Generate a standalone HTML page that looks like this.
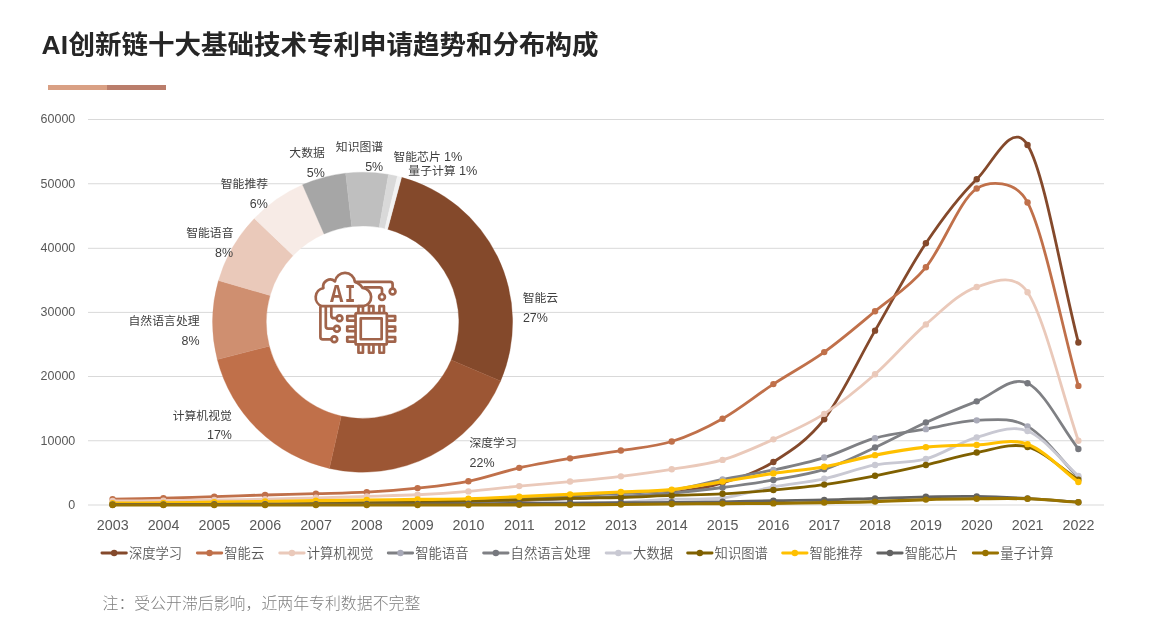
<!DOCTYPE html>
<html lang="zh-CN"><head><meta charset="utf-8"><title>AI创新链十大基础技术专利申请趋势和分布构成</title>
<style>
html,body{margin:0;padding:0;background:#fff;}
body{width:1151px;height:635px;position:relative;overflow:hidden;font-family:"Liberation Sans","Noto Sans CJK SC",sans-serif;}
h1{position:absolute;left:41.4px;top:26px;margin:0;font-size:26.5px;line-height:38px;font-weight:700;color:#262626;white-space:nowrap;letter-spacing:0;}
.bar{position:absolute;top:85px;height:4.6px;}
.b1{left:48px;width:59px;background:#D9A084;}
.b2{left:107px;width:59px;background:#BA7D6B;}
.note{position:absolute;left:102.5px;top:592px;margin:0;font-size:15.9px;line-height:24px;font-weight:300;color:#7F7F7F;white-space:nowrap;}
svg{position:absolute;left:0;top:0;}
svg text{font-family:"Liberation Sans","Noto Sans CJK SC",sans-serif;}
.ya{font-size:13.3px;fill:#595959;text-anchor:end;}
.xa{font-size:15.25px;fill:#595959;text-anchor:middle;}
.lg{font-size:13.33px;fill:#595959;font-weight:350;}
.dl{font-size:11.85px;fill:#404040;}
.pc{font-size:13.2px;}
.pc2{font-size:12.7px;}
</style></head><body>
<h1><span style="letter-spacing:.3px">AI</span>创新链十大基础技术专利申请趋势和分布构成</h1>
<div class="bar b1"></div><div class="bar b2"></div>
<svg width="1151" height="635" viewBox="0 0 1151 635">
<g stroke="#D9D9D9" stroke-width="1">
<line x1="88" x2="1104" y1="505" y2="505"/>
<line x1="88" x2="1104" y1="440.75" y2="440.75"/>
<line x1="88" x2="1104" y1="376.5" y2="376.5"/>
<line x1="88" x2="1104" y1="312.4" y2="312.4"/>
<line x1="88" x2="1104" y1="248.3" y2="248.3"/>
<line x1="88" x2="1104" y1="183.75" y2="183.75"/>
<line x1="88" x2="1104" y1="119.5" y2="119.5"/>
</g>
<g class="ya">
<text transform="translate(75.3 508.8) scale(.94 1)">0</text>
<text transform="translate(75.3 444.55) scale(.94 1)">10000</text>
<text transform="translate(75.3 380.3) scale(.94 1)">20000</text>
<text transform="translate(75.3 316.05) scale(.94 1)">30000</text>
<text transform="translate(75.3 251.8) scale(.94 1)">40000</text>
<text transform="translate(75.3 187.55) scale(.94 1)">50000</text>
<text transform="translate(75.3 123.3) scale(.94 1)">60000</text>
</g>
<g class="xa">
<text transform="translate(112.7 530.1) scale(.938 1)">2003</text>
<text transform="translate(163.53 530.1) scale(.938 1)">2004</text>
<text transform="translate(214.36 530.1) scale(.938 1)">2005</text>
<text transform="translate(265.19 530.1) scale(.938 1)">2006</text>
<text transform="translate(316.02 530.1) scale(.938 1)">2007</text>
<text transform="translate(366.85 530.1) scale(.938 1)">2008</text>
<text transform="translate(417.68 530.1) scale(.938 1)">2009</text>
<text transform="translate(468.51 530.1) scale(.938 1)">2010</text>
<text transform="translate(519.34 530.1) scale(.938 1)">2011</text>
<text transform="translate(570.17 530.1) scale(.938 1)">2012</text>
<text transform="translate(621 530.1) scale(.938 1)">2013</text>
<text transform="translate(671.83 530.1) scale(.938 1)">2014</text>
<text transform="translate(722.66 530.1) scale(.938 1)">2015</text>
<text transform="translate(773.49 530.1) scale(.938 1)">2016</text>
<text transform="translate(824.32 530.1) scale(.938 1)">2017</text>
<text transform="translate(875.15 530.1) scale(.938 1)">2018</text>
<text transform="translate(925.98 530.1) scale(.938 1)">2019</text>
<text transform="translate(976.81 530.1) scale(.938 1)">2020</text>
<text transform="translate(1027.64 530.1) scale(.938 1)">2021</text>
<text transform="translate(1078.47 530.1) scale(.938 1)">2022</text>
</g>
<g>
<path fill="#84492B" stroke="#84492B" stroke-width=".35" d="M401.55 177.35A150 150 0 0 1 500.57 381.05L451.18 359.98A96.3 96.3 0 0 0 387.61 229.2Z"/>
<path fill="#9C5634" stroke="#9C5634" stroke-width=".35" d="M500.57 381.05A150 150 0 0 1 329.37 468.47L341.26 416.11A96.3 96.3 0 0 0 451.18 359.98Z"/>
<path fill="#C0704A" stroke="#C0704A" stroke-width=".35" d="M329.37 468.47A150 150 0 0 1 217.31 359.5L269.33 346.15A96.3 96.3 0 0 0 341.26 416.11Z"/>
<path fill="#CF8F70" stroke="#CF8F70" stroke-width=".35" d="M217.31 359.5A150 150 0 0 1 218.48 280.6L270.08 295.49A96.3 96.3 0 0 0 269.33 346.15Z"/>
<path fill="#EAC9BA" stroke="#EAC9BA" stroke-width=".35" d="M218.48 280.6A150 150 0 0 1 254.34 218.38L293.09 255.55A96.3 96.3 0 0 0 270.08 295.49Z"/>
<path fill="#F7EBE6" stroke="#F7EBE6" stroke-width=".35" d="M254.34 218.38A150 150 0 0 1 302.55 184.75L324.05 233.95A96.3 96.3 0 0 0 293.09 255.55Z"/>
<path fill="#A6A6A6" stroke="#A6A6A6" stroke-width=".35" d="M302.55 184.75A150 150 0 0 1 345.62 173.16L351.7 226.52A96.3 96.3 0 0 0 324.05 233.95Z"/>
<path fill="#BFBFBF" stroke="#BFBFBF" stroke-width=".35" d="M345.62 173.16A150 150 0 0 1 388.47 174.45L379.21 227.34A96.3 96.3 0 0 0 351.7 226.52Z"/>
<path fill="#D9D9D9" stroke="#D9D9D9" stroke-width=".35" d="M388.47 174.45A150 150 0 0 1 397.36 176.28L384.92 228.52A96.3 96.3 0 0 0 379.21 227.34Z"/>
<path fill="#F2F2F2" stroke="#F2F2F2" stroke-width=".35" d="M397.36 176.28A150 150 0 0 1 401.55 177.35L387.61 229.2A96.3 96.3 0 0 0 384.92 228.52Z"/>
</g>
<path d="M112.6 504.61C129.54 504.57 146.49 504.53 163.43 504.49C180.37 504.44 197.32 504.41 214.26 504.36C231.2 504.3 248.15 504.23 265.09 504.16C282.03 504.1 298.98 504.05 315.92 503.97C332.86 503.9 349.81 503.82 366.75 503.71C383.69 503.61 400.64 503.54 417.58 503.33C434.52 503.12 451.47 502.9 468.41 502.43C485.35 501.96 502.3 501.14 519.24 500.5C536.18 499.86 553.13 499.16 570.07 498.57C587.01 497.99 603.96 497.93 620.9 496.97C637.84 496 654.79 495.15 671.73 492.79C688.67 490.44 705.62 487.97 722.56 482.83C739.5 477.69 756.45 472.55 773.39 461.95C790.33 451.35 807.28 441.11 824.22 419.23C841.16 397.34 858.11 359.98 875.05 330.66C891.99 301.34 908.94 268.55 925.88 243.31C942.82 218.07 959.77 195.64 976.71 179.25C992.91 163.59 1011.34 118.99 1027.54 145.01C1044.48 172.21 1061.43 276.66 1078.37 342.49" fill="none" stroke="#84492B" stroke-width="2.8" stroke-linecap="round" stroke-linejoin="round"/>
<g fill="#84492B"><circle cx="112.6" cy="504.61" r="3.2"/><circle cx="163.43" cy="504.49" r="3.2"/><circle cx="214.26" cy="504.36" r="3.2"/><circle cx="265.09" cy="504.16" r="3.2"/><circle cx="315.92" cy="503.97" r="3.2"/><circle cx="366.75" cy="503.71" r="3.2"/><circle cx="417.58" cy="503.33" r="3.2"/><circle cx="468.41" cy="502.43" r="3.2"/><circle cx="519.24" cy="500.5" r="3.2"/><circle cx="570.07" cy="498.57" r="3.2"/><circle cx="620.9" cy="496.97" r="3.2"/><circle cx="671.73" cy="492.79" r="3.2"/><circle cx="722.56" cy="482.83" r="3.2"/><circle cx="773.39" cy="461.95" r="3.2"/><circle cx="824.22" cy="419.23" r="3.2"/><circle cx="875.05" cy="330.66" r="3.2"/><circle cx="925.88" cy="243.31" r="3.2"/><circle cx="976.71" cy="179.25" r="3.2"/><circle cx="1027.54" cy="145.01" r="3.2"/><circle cx="1078.37" cy="342.49" r="3.2"/></g>
<path d="M112.6 499.09C129.54 498.79 146.49 498.6 163.43 498.19C180.37 497.78 197.32 497.18 214.26 496.65C231.2 496.11 248.15 495.47 265.09 494.98C282.03 494.48 298.98 494.16 315.92 493.69C332.86 493.22 349.81 493.08 366.75 492.15C383.69 491.22 400.64 489.91 417.58 488.1C434.52 486.29 451.47 484.66 468.41 481.29C485.35 477.92 502.3 471.69 519.24 467.86C536.18 464.04 553.13 461.25 570.07 458.36C587.01 455.48 603.96 453.36 620.9 450.55C637.84 447.75 654.79 446.82 671.73 441.52C688.67 436.22 705.62 428.3 722.56 418.73C739.5 409.16 756.45 395.21 773.39 384.11C790.33 373 807.28 364.23 824.22 352.09C841.16 339.94 858.11 325.38 875.05 311.25C891.99 297.11 908.94 287.72 925.88 267.27C942.82 246.83 959.77 199.37 976.71 188.57C988.77 180.88 1015.48 179.03 1027.54 202.45C1044.48 235.34 1061.43 324.76 1078.37 385.92" fill="none" stroke="#C0704A" stroke-width="2.8" stroke-linecap="round" stroke-linejoin="round"/>
<g fill="#C0704A"><circle cx="112.6" cy="499.09" r="3.2"/><circle cx="163.43" cy="498.19" r="3.2"/><circle cx="214.26" cy="496.65" r="3.2"/><circle cx="265.09" cy="494.98" r="3.2"/><circle cx="315.92" cy="493.69" r="3.2"/><circle cx="366.75" cy="492.15" r="3.2"/><circle cx="417.58" cy="488.1" r="3.2"/><circle cx="468.41" cy="481.29" r="3.2"/><circle cx="519.24" cy="467.86" r="3.2"/><circle cx="570.07" cy="458.36" r="3.2"/><circle cx="620.9" cy="450.55" r="3.2"/><circle cx="671.73" cy="441.52" r="3.2"/><circle cx="722.56" cy="418.73" r="3.2"/><circle cx="773.39" cy="384.11" r="3.2"/><circle cx="824.22" cy="352.09" r="3.2"/><circle cx="875.05" cy="311.25" r="3.2"/><circle cx="925.88" cy="267.27" r="3.2"/><circle cx="976.71" cy="188.57" r="3.2"/><circle cx="1027.54" cy="202.45" r="3.2"/><circle cx="1078.37" cy="385.92" r="3.2"/></g>
<path d="M112.6 501.02C129.54 500.89 146.49 500.8 163.43 500.63C180.37 500.46 197.32 500.23 214.26 499.99C231.2 499.74 248.15 499.52 265.09 499.15C282.03 498.79 298.98 498.27 315.92 497.8C332.86 497.33 349.81 496.84 366.75 496.34C383.69 495.83 400.64 495.6 417.58 494.77C434.52 493.94 451.47 492.82 468.41 491.38C485.35 489.94 502.3 487.75 519.24 486.11C536.18 484.47 553.13 483.18 570.07 481.55C587.01 479.92 603.96 478.39 620.9 476.34C637.84 474.3 654.79 472.02 671.73 469.28C688.67 466.54 705.62 464.88 722.56 459.9C739.5 454.91 756.45 447.03 773.39 439.36C790.33 431.68 807.28 424.67 824.22 413.83C841.16 402.99 858.11 389.2 875.05 374.3C891.99 359.39 908.94 338.93 925.88 324.39C942.82 309.85 959.77 292.41 976.71 287.05C990.8 282.6 1013.45 270.95 1027.54 292.26C1044.48 317.87 1061.43 391.25 1078.37 440.75" fill="none" stroke="#EAC9BA" stroke-width="2.8" stroke-linecap="round" stroke-linejoin="round"/>
<g fill="#EAC9BA"><circle cx="112.6" cy="501.02" r="3.2"/><circle cx="163.43" cy="500.63" r="3.2"/><circle cx="214.26" cy="499.99" r="3.2"/><circle cx="265.09" cy="499.15" r="3.2"/><circle cx="315.92" cy="497.8" r="3.2"/><circle cx="366.75" cy="496.34" r="3.2"/><circle cx="417.58" cy="494.77" r="3.2"/><circle cx="468.41" cy="491.38" r="3.2"/><circle cx="519.24" cy="486.11" r="3.2"/><circle cx="570.07" cy="481.55" r="3.2"/><circle cx="620.9" cy="476.34" r="3.2"/><circle cx="671.73" cy="469.28" r="3.2"/><circle cx="722.56" cy="459.9" r="3.2"/><circle cx="773.39" cy="439.36" r="3.2"/><circle cx="824.22" cy="413.83" r="3.2"/><circle cx="875.05" cy="374.3" r="3.2"/><circle cx="925.88" cy="324.39" r="3.2"/><circle cx="976.71" cy="287.05" r="3.2"/><circle cx="1027.54" cy="292.26" r="3.2"/><circle cx="1078.37" cy="440.75" r="3.2"/></g>
<path d="M112.6 504.04C129.54 503.97 146.49 503.92 163.43 503.84C180.37 503.77 197.32 503.69 214.26 503.59C231.2 503.48 248.15 503.34 265.09 503.2C282.03 503.06 298.98 502.93 315.92 502.75C332.86 502.57 349.81 502.33 366.75 502.11C383.69 501.88 400.64 501.69 417.58 501.4C434.52 501.11 451.47 500.85 468.41 500.37C485.35 499.9 502.3 499.3 519.24 498.57C536.18 497.85 553.13 496.86 570.07 496C587.01 495.15 603.96 494.4 620.9 493.44C637.84 492.47 654.79 492.57 671.73 490.22C688.67 487.88 705.62 482.74 722.56 479.36C739.5 475.99 756.45 473.61 773.39 469.98C790.33 466.34 807.28 462.87 824.22 457.56C841.16 452.26 858.11 442.89 875.05 438.15C891.99 433.42 908.94 432.11 925.88 429.15C942.82 426.18 959.77 420.81 976.71 420.34C993.65 419.88 1010.6 416.84 1027.54 426.35C1044.48 435.85 1061.43 460.36 1078.37 477.37" fill="none" stroke="#7F8084" stroke-width="2.8" stroke-linecap="round" stroke-linejoin="round"/>
<g fill="#A9AAB8"><circle cx="112.6" cy="504.04" r="3.2"/><circle cx="163.43" cy="503.84" r="3.2"/><circle cx="214.26" cy="503.59" r="3.2"/><circle cx="265.09" cy="503.2" r="3.2"/><circle cx="315.92" cy="502.75" r="3.2"/><circle cx="366.75" cy="502.11" r="3.2"/><circle cx="417.58" cy="501.4" r="3.2"/><circle cx="468.41" cy="500.37" r="3.2"/><circle cx="519.24" cy="498.57" r="3.2"/><circle cx="570.07" cy="496" r="3.2"/><circle cx="620.9" cy="493.44" r="3.2"/><circle cx="671.73" cy="490.22" r="3.2"/><circle cx="722.56" cy="479.36" r="3.2"/><circle cx="773.39" cy="469.98" r="3.2"/><circle cx="824.22" cy="457.56" r="3.2"/><circle cx="875.05" cy="438.15" r="3.2"/><circle cx="925.88" cy="429.15" r="3.2"/><circle cx="976.71" cy="420.34" r="3.2"/><circle cx="1027.54" cy="426.35" r="3.2"/><circle cx="1078.37" cy="477.37" r="3.2"/></g>
<path d="M112.6 504.23C129.54 504.16 146.49 504.1 163.43 504.04C180.37 503.97 197.32 503.93 214.26 503.84C231.2 503.76 248.15 503.64 265.09 503.52C282.03 503.4 298.98 503.28 315.92 503.14C332.86 503 349.81 502.86 366.75 502.69C383.69 502.52 400.64 502.32 417.58 502.11C434.52 501.89 451.47 501.72 468.41 501.4C485.35 501.08 502.3 500.65 519.24 500.18C536.18 499.71 553.13 499.22 570.07 498.57C587.01 497.93 603.96 497.24 620.9 496.33C637.84 495.42 654.79 494.59 671.73 493.11C688.67 491.64 705.62 489.67 722.56 487.49C739.5 485.3 756.45 483 773.39 479.98C790.33 476.96 807.28 474.78 824.22 469.37C841.16 463.97 858.11 455.37 875.05 447.56C891.99 439.76 908.94 430.25 925.88 422.54C942.82 414.84 959.77 407.86 976.71 401.33C993.65 394.79 1010.6 375.38 1027.54 383.32C1044.48 391.26 1061.43 427.08 1078.37 448.96" fill="none" stroke="#7F8084" stroke-width="2.8" stroke-linecap="round" stroke-linejoin="round"/>
<g fill="#76787E"><circle cx="112.6" cy="504.23" r="3.2"/><circle cx="163.43" cy="504.04" r="3.2"/><circle cx="214.26" cy="503.84" r="3.2"/><circle cx="265.09" cy="503.52" r="3.2"/><circle cx="315.92" cy="503.14" r="3.2"/><circle cx="366.75" cy="502.69" r="3.2"/><circle cx="417.58" cy="502.11" r="3.2"/><circle cx="468.41" cy="501.4" r="3.2"/><circle cx="519.24" cy="500.18" r="3.2"/><circle cx="570.07" cy="498.57" r="3.2"/><circle cx="620.9" cy="496.33" r="3.2"/><circle cx="671.73" cy="493.11" r="3.2"/><circle cx="722.56" cy="487.49" r="3.2"/><circle cx="773.39" cy="479.98" r="3.2"/><circle cx="824.22" cy="469.37" r="3.2"/><circle cx="875.05" cy="447.56" r="3.2"/><circle cx="925.88" cy="422.54" r="3.2"/><circle cx="976.71" cy="401.33" r="3.2"/><circle cx="1027.54" cy="383.32" r="3.2"/><circle cx="1078.37" cy="448.96" r="3.2"/></g>
<path d="M112.6 504.49C129.54 504.44 146.49 504.4 163.43 504.36C180.37 504.31 197.32 504.27 214.26 504.23C231.2 504.19 248.15 504.14 265.09 504.1C282.03 504.06 298.98 504.01 315.92 503.97C332.86 503.93 349.81 503.89 366.75 503.84C383.69 503.8 400.64 503.76 417.58 503.71C434.52 503.67 451.47 503.64 468.41 503.59C485.35 503.53 502.3 503.48 519.24 503.39C536.18 503.31 553.13 503.25 570.07 503.07C587.01 502.89 603.96 502.94 620.9 502.3C637.84 501.66 654.79 499.93 671.73 499.22C688.67 498.5 705.62 500.07 722.56 498C739.5 495.92 756.45 489.99 773.39 486.79C790.33 483.58 807.28 482.42 824.22 478.78C841.16 475.14 858.11 468.27 875.05 464.97C891.99 461.67 908.94 463.57 925.88 458.96C942.82 454.36 959.77 442.02 976.71 437.35C993.65 432.68 1010.6 424.51 1027.54 430.95C1044.48 437.39 1061.43 460.97 1078.37 475.98" fill="none" stroke="#C9C9D3" stroke-width="2.8" stroke-linecap="round" stroke-linejoin="round"/>
<g fill="#C9C9D3"><circle cx="112.6" cy="504.49" r="3.2"/><circle cx="163.43" cy="504.36" r="3.2"/><circle cx="214.26" cy="504.23" r="3.2"/><circle cx="265.09" cy="504.1" r="3.2"/><circle cx="315.92" cy="503.97" r="3.2"/><circle cx="366.75" cy="503.84" r="3.2"/><circle cx="417.58" cy="503.71" r="3.2"/><circle cx="468.41" cy="503.59" r="3.2"/><circle cx="519.24" cy="503.39" r="3.2"/><circle cx="570.07" cy="503.07" r="3.2"/><circle cx="620.9" cy="502.3" r="3.2"/><circle cx="671.73" cy="499.22" r="3.2"/><circle cx="722.56" cy="498" r="3.2"/><circle cx="773.39" cy="486.79" r="3.2"/><circle cx="824.22" cy="478.78" r="3.2"/><circle cx="875.05" cy="464.97" r="3.2"/><circle cx="925.88" cy="458.96" r="3.2"/><circle cx="976.71" cy="437.35" r="3.2"/><circle cx="1027.54" cy="430.95" r="3.2"/><circle cx="1078.37" cy="475.98" r="3.2"/></g>
<path d="M112.6 504.36C129.54 504.31 146.49 504.28 163.43 504.23C180.37 504.18 197.32 504.11 214.26 504.04C231.2 503.96 248.15 503.88 265.09 503.78C282.03 503.68 298.98 503.6 315.92 503.46C332.86 503.32 349.81 503.17 366.75 502.94C383.69 502.72 400.64 502.41 417.58 502.11C434.52 501.81 451.47 501.52 468.41 501.14C485.35 500.77 502.3 500.34 519.24 499.86C536.18 499.38 553.13 498.65 570.07 498.25C587.01 497.86 603.96 497.95 620.9 497.48C637.84 497.01 654.79 496.04 671.73 495.43C688.67 494.81 705.62 494.69 722.56 493.79C739.5 492.88 756.45 491.52 773.39 489.99C790.33 488.46 807.28 486.96 824.22 484.59C841.16 482.22 858.11 479.05 875.05 475.78C891.99 472.51 908.94 468.84 925.88 464.97C942.82 461.1 959.77 455.57 976.71 452.57C993.65 449.56 1010.6 442.43 1027.54 446.96C1044.48 451.5 1061.43 468.84 1078.37 479.78" fill="none" stroke="#7F6000" stroke-width="2.8" stroke-linecap="round" stroke-linejoin="round"/>
<g fill="#7F6000"><circle cx="112.6" cy="504.36" r="3.2"/><circle cx="163.43" cy="504.23" r="3.2"/><circle cx="214.26" cy="504.04" r="3.2"/><circle cx="265.09" cy="503.78" r="3.2"/><circle cx="315.92" cy="503.46" r="3.2"/><circle cx="366.75" cy="502.94" r="3.2"/><circle cx="417.58" cy="502.11" r="3.2"/><circle cx="468.41" cy="501.14" r="3.2"/><circle cx="519.24" cy="499.86" r="3.2"/><circle cx="570.07" cy="498.25" r="3.2"/><circle cx="620.9" cy="497.48" r="3.2"/><circle cx="671.73" cy="495.43" r="3.2"/><circle cx="722.56" cy="493.79" r="3.2"/><circle cx="773.39" cy="489.99" r="3.2"/><circle cx="824.22" cy="484.59" r="3.2"/><circle cx="875.05" cy="475.78" r="3.2"/><circle cx="925.88" cy="464.97" r="3.2"/><circle cx="976.71" cy="452.57" r="3.2"/><circle cx="1027.54" cy="446.96" r="3.2"/><circle cx="1078.37" cy="479.78" r="3.2"/></g>
<path d="M112.6 503.14C129.54 503.05 146.49 503.05 163.43 502.88C180.37 502.71 197.32 502.33 214.26 502.11C231.2 501.89 248.15 501.81 265.09 501.56C282.03 501.32 298.98 500.89 315.92 500.63C332.86 500.37 349.81 500.18 366.75 499.99C383.69 499.8 400.64 499.68 417.58 499.47C434.52 499.27 451.47 499.23 468.41 498.77C485.35 498.3 502.3 497.42 519.24 496.68C536.18 495.94 553.13 495.11 570.07 494.33C587.01 493.56 603.96 492.8 620.9 492.01C637.84 491.22 654.79 491.32 671.73 489.58C688.67 487.84 705.62 484.28 722.56 481.58C739.5 478.88 756.45 475.84 773.39 473.38C790.33 470.91 807.28 469.81 824.22 466.77C841.16 463.74 858.11 458.44 875.05 455.17C891.99 451.9 908.94 448.86 925.88 447.16C942.82 445.46 959.77 445.46 976.71 444.96C993.65 444.46 1010.6 437.98 1027.54 444.16C1044.48 450.33 1061.43 469.38 1078.37 481.99" fill="none" stroke="#FFC000" stroke-width="3.2" stroke-linecap="round" stroke-linejoin="round"/>
<g fill="#FFC000"><circle cx="112.6" cy="503.14" r="3.2"/><circle cx="163.43" cy="502.88" r="3.2"/><circle cx="214.26" cy="502.11" r="3.2"/><circle cx="265.09" cy="501.56" r="3.2"/><circle cx="315.92" cy="500.63" r="3.2"/><circle cx="366.75" cy="499.99" r="3.2"/><circle cx="417.58" cy="499.47" r="3.2"/><circle cx="468.41" cy="498.77" r="3.2"/><circle cx="519.24" cy="496.68" r="3.2"/><circle cx="570.07" cy="494.33" r="3.2"/><circle cx="620.9" cy="492.01" r="3.2"/><circle cx="671.73" cy="489.58" r="3.2"/><circle cx="722.56" cy="481.58" r="3.2"/><circle cx="773.39" cy="473.38" r="3.2"/><circle cx="824.22" cy="466.77" r="3.2"/><circle cx="875.05" cy="455.17" r="3.2"/><circle cx="925.88" cy="447.16" r="3.2"/><circle cx="976.71" cy="444.96" r="3.2"/><circle cx="1027.54" cy="444.16" r="3.2"/><circle cx="1078.37" cy="481.99" r="3.2"/></g>
<path d="M112.6 504.42C129.54 504.4 146.49 504.38 163.43 504.36C180.37 504.34 197.32 504.31 214.26 504.29C231.2 504.27 248.15 504.25 265.09 504.23C282.03 504.21 298.98 504.2 315.92 504.16C332.86 504.13 349.81 504.09 366.75 504.04C383.69 503.98 400.64 503.91 417.58 503.84C434.52 503.78 451.47 503.73 468.41 503.65C485.35 503.58 502.3 503.49 519.24 503.39C536.18 503.3 553.13 503.18 570.07 503.07C587.01 502.97 603.96 502.88 620.9 502.75C637.84 502.62 654.79 502.46 671.73 502.3C688.67 502.14 705.62 502.07 722.56 501.79C739.5 501.5 756.45 500.9 773.39 500.6C790.33 500.3 807.28 500.36 824.22 499.99C841.16 499.63 858.11 498.93 875.05 498.4C891.99 497.86 908.94 497.13 925.88 496.8C942.82 496.46 959.77 496.13 976.71 496.4C993.65 496.66 1010.6 497.43 1027.54 498.4C1044.48 499.36 1061.43 500.93 1078.37 502.2" fill="none" stroke="#636363" stroke-width="2.8" stroke-linecap="round" stroke-linejoin="round"/>
<g fill="#636363"><circle cx="112.6" cy="504.42" r="3.2"/><circle cx="163.43" cy="504.36" r="3.2"/><circle cx="214.26" cy="504.29" r="3.2"/><circle cx="265.09" cy="504.23" r="3.2"/><circle cx="315.92" cy="504.16" r="3.2"/><circle cx="366.75" cy="504.04" r="3.2"/><circle cx="417.58" cy="503.84" r="3.2"/><circle cx="468.41" cy="503.65" r="3.2"/><circle cx="519.24" cy="503.39" r="3.2"/><circle cx="570.07" cy="503.07" r="3.2"/><circle cx="620.9" cy="502.75" r="3.2"/><circle cx="671.73" cy="502.3" r="3.2"/><circle cx="722.56" cy="501.79" r="3.2"/><circle cx="773.39" cy="500.6" r="3.2"/><circle cx="824.22" cy="499.99" r="3.2"/><circle cx="875.05" cy="498.4" r="3.2"/><circle cx="925.88" cy="496.8" r="3.2"/><circle cx="976.71" cy="496.4" r="3.2"/><circle cx="1027.54" cy="498.4" r="3.2"/><circle cx="1078.37" cy="502.2" r="3.2"/></g>
<path d="M112.6 505C129.54 505 146.49 505 163.43 505C180.37 505 197.32 505 214.26 505C231.2 505 248.15 505 265.09 505C282.03 505 298.98 505 315.92 505C332.86 505 349.81 505 366.75 505C383.69 505 400.64 505.01 417.58 505C434.52 504.99 451.47 504.96 468.41 504.94C485.35 504.91 502.3 504.9 519.24 504.87C536.18 504.84 553.13 504.8 570.07 504.74C587.01 504.69 603.96 504.67 620.9 504.55C637.84 504.43 654.79 504.2 671.73 504.04C688.67 503.88 705.62 503.69 722.56 503.59C739.5 503.48 756.45 503.57 773.39 503.4C790.33 503.24 807.28 502.9 824.22 502.6C841.16 502.3 858.11 502.09 875.05 501.59C891.99 501.09 908.94 500.06 925.88 499.6C942.82 499.13 959.77 498.93 976.71 498.79C993.65 498.66 1010.6 498.23 1027.54 498.79C1044.48 499.36 1061.43 501.06 1078.37 502.2" fill="none" stroke="#997300" stroke-width="3.1" stroke-linecap="round" stroke-linejoin="round"/>
<g fill="#997300"><circle cx="112.6" cy="505" r="3.2"/><circle cx="163.43" cy="505" r="3.2"/><circle cx="214.26" cy="505" r="3.2"/><circle cx="265.09" cy="505" r="3.2"/><circle cx="315.92" cy="505" r="3.2"/><circle cx="366.75" cy="505" r="3.2"/><circle cx="417.58" cy="505" r="3.2"/><circle cx="468.41" cy="504.94" r="3.2"/><circle cx="519.24" cy="504.87" r="3.2"/><circle cx="570.07" cy="504.74" r="3.2"/><circle cx="620.9" cy="504.55" r="3.2"/><circle cx="671.73" cy="504.04" r="3.2"/><circle cx="722.56" cy="503.59" r="3.2"/><circle cx="773.39" cy="503.4" r="3.2"/><circle cx="824.22" cy="502.6" r="3.2"/><circle cx="875.05" cy="501.59" r="3.2"/><circle cx="925.88" cy="499.6" r="3.2"/><circle cx="976.71" cy="498.79" r="3.2"/><circle cx="1027.54" cy="498.79" r="3.2"/><circle cx="1078.37" cy="502.2" r="3.2"/></g>
<g class="dl">
<text x="324.9" y="156.6" text-anchor="end">大数据</text>
<text class="pc" transform="translate(324.8 177.3) scale(.945 1)" text-anchor="end">5%</text>
<text x="383.2" y="151.3" text-anchor="end">知识图谱</text>
<text class="pc" transform="translate(383.2 171.2) scale(.945 1)" text-anchor="end">5%</text>
<text x="393.4" y="161.2" text-anchor="start">智能芯片 <tspan class="pc2">1%</tspan></text>
<text x="408.3" y="174.5" text-anchor="start">量子计算 <tspan class="pc2">1%</tspan></text>
<text x="268.1" y="188.1" text-anchor="end">智能推荐</text>
<text class="pc" transform="translate(267.8 208.2) scale(.945 1)" text-anchor="end">6%</text>
<text x="233.5" y="237.3" text-anchor="end">智能语音</text>
<text class="pc" transform="translate(233.1 256.5) scale(.945 1)" text-anchor="end">8%</text>
<text x="199.6" y="324.7" text-anchor="end">自然语言处理</text>
<text class="pc" transform="translate(199.5 345.2) scale(.945 1)" text-anchor="end">8%</text>
<text x="231.9" y="420.1" text-anchor="end">计算机视觉</text>
<text class="pc" transform="translate(231.9 439.2) scale(.945 1)" text-anchor="end">17%</text>
<text x="469.4" y="446.9" text-anchor="start">深度学习</text>
<text class="pc" transform="translate(469.6 466.7) scale(.945 1)" text-anchor="start">22%</text>
<text x="522.7" y="302.2" text-anchor="start">智能云</text>
<text class="pc" transform="translate(522.9 322.2) scale(.945 1)" text-anchor="start">27%</text>
</g>
<g fill="none" stroke="#A1644B" stroke-width="2.7" stroke-linejoin="round"><path d="M321.8 306.2A9.43 9.43 0 0 1 323.4 288.1A7.01 7.01 0 0 1 335 281.4A10.04 10.04 0 0 1 354.9 281.9Q359.5 283.2 362.6 288A9.15 9.15 0 0 1 363.2 306.2Z"/><path d="M355 281.9H390.2Q392.6 281.9 392.6 284.3V288.4"/><circle cx="392.6" cy="291.5" r="2.9"/><path d="M363.4 287.4H379.6Q382 287.4 382 289.8V293.8"/><circle cx="382" cy="296.9" r="2.9"/><path d="M320.4 306.2V336.9Q320.4 339.3 322.8 339.3H331.3"/><circle cx="334.3" cy="339.3" r="2.9"/><path d="M325.8 306.2V326.3Q325.8 328.7 328.2 328.7H333.9"/><circle cx="336.9" cy="328.7" r="2.9"/><path d="M331.3 306.2V315.4Q331.3 318.2 334.1 318.2H336.5"/><circle cx="339.5" cy="318.2" r="2.9"/><rect x="355.55" y="313.15" width="31.3" height="31.3" rx="1.2"/><rect x="360.75" y="318.35" width="20.9" height="20.9"/><path d="M355.55 316.05H347.25V320.55H355.55"/><path d="M386.85 316.05H395.15V320.55H386.85"/><path d="M358.45 344.45V352.75H362.95V344.45"/><path d="M358.45 313.15V306.2H362.95V313.15"/><path d="M355.55 326.55H347.25V331.05H355.55"/><path d="M386.85 326.55H395.15V331.05H386.85"/><path d="M368.95 344.45V352.75H373.45V344.45"/><path d="M368.95 313.15V306.2H373.45V313.15"/><path d="M355.55 337.05H347.25V341.55H355.55"/><path d="M386.85 337.05H395.15V341.55H386.85"/><path d="M379.45 344.45V352.75H383.95V344.45"/><path d="M379.45 313.15V306.2H383.95V313.15"/></g><text y="302.3" style="font-family:'Liberation Mono',monospace;font-size:26.5px;font-weight:700" fill="#A1644B"><tspan x="329.9" textLength="13.35" lengthAdjust="spacingAndGlyphs">A</tspan><tspan x="345" textLength="10.2" lengthAdjust="spacingAndGlyphs">I</tspan></text>
<g class="lg">
<line x1="101.9" x2="126.4" y1="553" y2="553" stroke="#84492B" stroke-width="2.8" stroke-linecap="round"/>
<circle cx="114.15" cy="553" r="3.2" fill="#84492B"/>
<text x="128.9" y="557.6">深度学习</text>
<line x1="197.3" x2="221.8" y1="553" y2="553" stroke="#C0704A" stroke-width="2.8" stroke-linecap="round"/>
<circle cx="209.55" cy="553" r="3.2" fill="#C0704A"/>
<text x="224.3" y="557.6">智能云</text>
<line x1="279.7" x2="304.2" y1="553" y2="553" stroke="#EAC9BA" stroke-width="2.8" stroke-linecap="round"/>
<circle cx="291.95" cy="553" r="3.2" fill="#EAC9BA"/>
<text x="306.7" y="557.6">计算机视觉</text>
<line x1="388.2" x2="412.7" y1="553" y2="553" stroke="#7F8084" stroke-width="2.8" stroke-linecap="round"/>
<circle cx="400.45" cy="553" r="3.2" fill="#A9AAB8"/>
<text x="415.2" y="557.6">智能语音</text>
<line x1="483.6" x2="508.1" y1="553" y2="553" stroke="#7F8084" stroke-width="2.8" stroke-linecap="round"/>
<circle cx="495.85" cy="553" r="3.2" fill="#76787E"/>
<text x="510.6" y="557.6">自然语言处理</text>
<line x1="606.1" x2="630.6" y1="553" y2="553" stroke="#C9C9D3" stroke-width="2.8" stroke-linecap="round"/>
<circle cx="618.35" cy="553" r="3.2" fill="#C9C9D3"/>
<text x="633.1" y="557.6">大数据</text>
<line x1="687.6" x2="712.1" y1="553" y2="553" stroke="#7F6000" stroke-width="2.8" stroke-linecap="round"/>
<circle cx="699.85" cy="553" r="3.2" fill="#7F6000"/>
<text x="714.6" y="557.6">知识图谱</text>
<line x1="782.6" x2="807.1" y1="553" y2="553" stroke="#FFC000" stroke-width="2.8" stroke-linecap="round"/>
<circle cx="794.85" cy="553" r="3.2" fill="#FFC000"/>
<text x="809.6" y="557.6">智能推荐</text>
<line x1="877.7" x2="902.2" y1="553" y2="553" stroke="#636363" stroke-width="2.8" stroke-linecap="round"/>
<circle cx="889.95" cy="553" r="3.2" fill="#636363"/>
<text x="904.7" y="557.6">智能芯片</text>
<line x1="973.2" x2="997.7" y1="553" y2="553" stroke="#997300" stroke-width="2.8" stroke-linecap="round"/>
<circle cx="985.45" cy="553" r="3.2" fill="#997300"/>
<text x="1000.2" y="557.6">量子计算</text>
</g>
</svg>
<p class="note">注：受公开滞后影响，近两年专利数据不完整</p>
</body></html>
